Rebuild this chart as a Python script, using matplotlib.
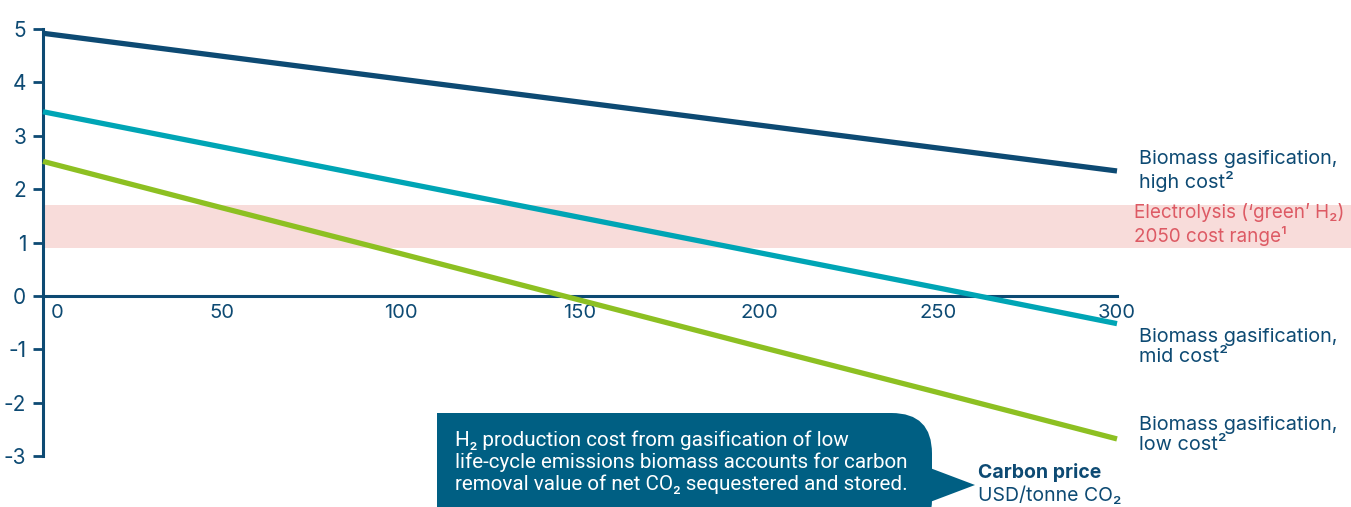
import numpy as np
import matplotlib
matplotlib.use('Agg')
import matplotlib.pyplot as plt
from matplotlib.patches import FancyBboxPatch, Rectangle, Polygon
import matplotlib.transforms as mtransforms

plt.rcParams['font.family'] = ['Inter', 'DejaVu Sans']

# carbon price, USD/tonne CO2
price = [0, 50, 100, 150, 200, 250, 300]
# H2 production cost
high_cost = [4.92, 4.49, 4.06, 3.63, 3.20, 2.77, 2.34]
mid_cost = [3.45, 2.79, 2.13, 1.47, 0.81, 0.15, -0.52]
low_cost = [2.52, 1.65, 0.79, -0.08, -0.95, -1.81, -2.68]
green_low, green_high = 0.9, 1.7

xticks = [0, 50, 100, 150, 200, 250, 300]
yticks = [-3, -2, -1, 0, 1, 2, 3, 4, 5]

navy = '#0d4a73'
teal = '#00a5b5'
lime = '#8dc022'
pink = '#f8dcda'
red_txt = '#dd5a64'
box_col = '#005f83'

W, H = 1351, 507
fig = plt.figure(figsize=(W / 100, H / 100), dpi=100)
ax = fig.add_axes([43 / W, 1 - 456 / H, (1117 - 43) / W, (456 - 29) / H])

# electrolysis band runs past the axes to the figure edge
ax.axhspan(green_low, green_high, xmin=0, xmax=(W - 43) / (1117 - 43),
           color=pink, lw=0, clip_on=False, zorder=0)

ax.plot(price, high_cost, color=navy, lw=3.8, solid_capstyle='butt', clip_on=False, zorder=3)
ax.plot(price, mid_cost, color=teal, lw=3.8, solid_capstyle='butt', clip_on=False, zorder=3)
ax.plot(price, low_cost, color=lime, lw=3.8, solid_capstyle='butt', clip_on=False, zorder=3)

ax.set_xlim(0, 300)
ax.set_ylim(-3, 5)
for s in ['top', 'right']:
    ax.spines[s].set_visible(False)
ax.spines['bottom'].set_position(('data', 0))
ax.spines['left'].set_color(navy)
ax.spines['bottom'].set_color(navy)
ax.spines['left'].set_linewidth(2.2)
ax.spines['bottom'].set_linewidth(2.2)
ax.spines['bottom'].set_zorder(2)

ax.set_xticks(xticks)
ax.set_xticklabels([str(v) for v in xticks])
ax.set_yticks(yticks)
ax.set_yticklabels([str(v) for v in yticks])
ax.tick_params(axis='x', length=0, pad=6, labelsize=14.5, labelcolor=navy)
ax.tick_params(axis='y', length=7, width=2, color=navy, pad=5, labelsize=15, labelcolor=navy)
lab0 = ax.get_xticklabels()[0]
lab0.set_transform(lab0.get_transform() + mtransforms.ScaledTranslation(0.14, 0, fig.dpi_scale_trans))

# series labels on the right
fs = 14.3
fig.text(1139 / W, 1 - 171 / H, 'Biomass gasification,\nhigh cost²', color=navy,
         fontsize=fs, va='center', ha='left', linespacing=1.2)
fig.text(1134 / W, 1 - 225 / H, 'Electrolysis (‘green’ H₂)\n2050 cost range¹', color=red_txt,
         fontsize=13.6, va='center', ha='left', linespacing=1.25)
fig.text(1139 / W, 1 - 347 / H, 'Biomass gasification,\nmid cost²', color=navy,
         fontsize=fs, va='center', ha='left', linespacing=1.2)
fig.text(1139 / W, 1 - 435 / H, 'Biomass gasification,\nlow cost²', color=navy,
         fontsize=fs, va='center', ha='left', linespacing=1.2)

# axis title
fig.text(978 / W, 1 - 473 / H, 'Carbon price', color=navy, fontsize=14, fontweight='bold',
         va='center', ha='left')
fig.text(978 / W, 1 - 496 / H, 'USD/tonne CO₂', color=navy, fontsize=14,
         va='center', ha='left')

# callout box
def px(x, y):
    return (x / W, 1 - y / H)

tf = fig.transFigure
x0, y0 = px(437, 540)
x1, y1 = px(932, 413)
fig.patches.append(FancyBboxPatch((x0, y0), x1 - x0, y1 - y0,
                                  boxstyle='round,pad=0,rounding_size=0.03',
                                  mutation_aspect=W / H,
                                  transform=tf, fc=box_col, ec='none', zorder=5))
fig.patches.append(Rectangle((x0, y0), (x1 - x0) / 2, y1 - y0, transform=tf,
                             fc=box_col, ec='none', zorder=5))
fig.patches.append(Polygon([px(930, 468), px(975, 485), px(930, 502)], closed=True,
                           transform=tf, fc=box_col, ec='none', zorder=5))
fig.text(455 / W, 1 - 462 / H,
         'H₂ production cost from gasification of low\n'
         'life-cycle emissions biomass accounts for carbon\n'
         'removal value of net CO₂ sequestered and stored.',
         color='white', fontsize=14.9, family=['Roboto', 'DejaVu Sans'],
         va='center', ha='left', linespacing=1.15, zorder=6)

fig.savefig('out.png', dpi=100)
